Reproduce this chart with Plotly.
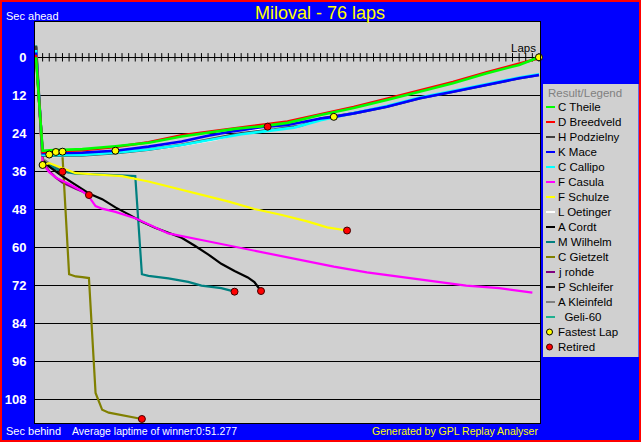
import plotly.graph_objects as go

# ---------------- data (lap, seconds behind average-leader pace) ----------------
names = ["C Theile", "D Breedveld", "H Podzielny", "K Mace", "C Callipo", "F Casula",
         "F Schulze", "L Oetinger", "A Cordt", "M Wilhelm", "C Gietzelt", "j rohde",
         "P Schleifer", "A Kleinfeld", "\u00a0\u00a0Geli-60"]
colors = ["#00FF00", "#FF0000", "#404040", "#0000FF", "#00FFFF", "#FF00FF",
          "#FFFF00", "#FFFFFF", "#000000", "#008080", "#808000", "#800080",
          "#202020", "#808080", "#20B090"]
widths = [2.6, 2.6, 2.6, 2.6, 2.6, 2.2, 2.2, 2.4, 2.2, 2.2, 2.2, 2.4, 2.2, 2.2, 2.2]
# drawing order (first = bottom)
draw_order = [14, 13, 12, 11, 10, 9, 8, 7, 6, 5, 2, 4, 3, 1, 0]

theile_laps = [0, 1, 2, 4, 7, 12, 17, 22, 26, 30, 34, 38, 43, 48, 53, 58, 63, 68, 73, 76]
theile_sec = [0.0, 29.5, 29.4, 29.2, 29.0, 28.1, 27.0, 25.0, 23.8, 22.6, 21.8, 20.7, 18.2, 16.0, 13.5, 10.9, 8.2, 5.1, 2.4, 0.0]

breedveld_laps = [0, 1, 2, 4, 7, 12, 17, 22, 26, 30, 34, 38, 43, 48, 53, 58, 63, 68, 73, 76]
breedveld_sec = [-0.8, 29.9, 29.7, 29.5, 29.3, 28.3, 26.8, 24.6, 23.5, 22.3, 21.3, 20.3, 18.0, 15.7, 13.1, 10.5, 7.8, 4.8, 2.0, 0.3]

podzielny_laps = [0, 1, 2, 4, 7, 12, 17, 22, 27, 31, 36, 40, 43, 48, 53, 58, 63, 68, 73, 76]
podzielny_sec = [-3.6, 31.0, 31.1, 31.1, 31.0, 30.3, 29.2, 27.6, 25.6, 24.0, 22.8, 21.6, 19.3, 17.7, 15.6, 12.9, 10.9, 8.7, 6.6, 5.6]

mace_laps = [0, 1, 2, 4, 7, 12, 17, 22, 26, 30, 34, 38, 43, 45, 48, 53, 58, 63, 68, 73, 76]
mace_sec = [-1.5, 30.3, 30.3, 30.2, 30.1, 29.5, 28.2, 26.6, 24.8, 23.3, 22.1, 21.4, 19.3, 18.8, 17.7, 15.6, 12.9, 10.9, 8.7, 6.6, 5.6]

callipo_laps = [0, 1, 2, 4, 7, 12, 17, 22, 27, 31, 36, 39, 43, 48, 53, 58, 63, 68, 73, 76]
callipo_sec = [-2.3, 30.8, 30.9, 30.9, 30.8, 30.1, 29.1, 27.7, 25.9, 24.3, 23.0, 22.2, 19.9, 17.6, 15.4, 12.7, 10.7, 8.5, 6.4, 5.4]

casula_laps = [0, 1, 2, 3, 5, 7, 8, 9, 10, 12, 15, 20, 25, 30, 35, 40, 45, 50, 55, 60, 65, 70, 75]
casula_sec = [-2.0, 33.5, 36.3, 38.0, 40.0, 42.3, 44.0, 47.0, 47.8, 48.8, 50.8, 55.6, 57.7, 59.8, 61.9, 64.0, 66.1, 67.9, 69.3, 70.5, 72.1, 72.9, 74.3]

schulze_laps = [0, 1, 2, 4, 6, 9, 13, 17, 21, 25, 29, 33, 37, 41, 44, 47]
schulze_sec = [-1.0, 34.0, 33.4, 35.0, 36.6, 37.0, 37.5, 39.2, 41.3, 43.4, 45.5, 47.9, 49.7, 51.8, 53.7, 54.7]

oetinger_laps = [0, 1, 2, 4, 7, 12, 17, 22, 27, 31, 35]
oetinger_sec = [-2.8, 30.9, 31.2, 31.2, 31.1, 30.4, 29.3, 27.8, 26.0, 24.0, 21.9]

cordt_laps = [0, 1, 2, 4, 6, 8, 10, 12, 14, 16, 18, 20, 22, 24, 26, 28, 30, 32, 33, 34]
cordt_sec = [-2.0, 32.5, 34.5, 37.6, 40.3, 43.0, 44.8, 47.4, 49.6, 51.9, 53.8, 55.4, 57.0, 59.5, 62.2, 65.2, 67.5, 69.5, 71.0, 73.8]

wilhelm_laps = [0, 1, 2, 3, 4, 5, 6, 10, 15, 16, 17, 20, 23, 25, 28, 30]
wilhelm_sec = [-2.5, 33.0, 34.0, 35.2, 36.0, 36.4, 36.7, 37.0, 37.5, 68.5, 69.0, 69.8, 70.9, 72.1, 72.9, 74.0]

gietzelt_laps = [0, 1, 2, 3, 4, 5, 6, 7, 8, 9, 10, 11, 12, 13, 14, 15, 16]
gietzelt_sec = [-3.0, 30.0, 30.5, 30.8, 31.0, 68.5, 69.2, 69.4, 69.7, 106.0, 111.3, 112.2, 112.6, 113.0, 113.4, 113.8, 114.2]

rohde_laps = [0, 1, 2, 3, 4, 5, 6, 7, 8]
rohde_sec = [-3.0, 33.3, 36.0, 38.0, 39.5, 40.6, 41.5, 42.3, 43.5]

schleifer_laps = [0, 1, 2, 3, 4]
schleifer_sec = [-3.3, 32.8, 34.3, 35.3, 36.1]

kleinfeld_laps = [0, 1, 2, 3, 4, 5]
kleinfeld_sec = [-3.5, 32.0, 33.5, 34.8, 35.8, 36.4]

geli_laps = [0, 1]
geli_sec = [-3.8, 31.0]

fastest_laps = [1, 2, 3, 4, 12, 45, 76]
fastest_sec = [34.0, 30.7, 29.9, 29.8, 29.5, 18.8, 0.0]

retired_names = ["F Schulze", "L Oetinger", "A Cordt", "M Wilhelm", "C Gietzelt", "j rohde", "P Schleifer"]

y_ticks = [0, 12, 24, 36, 48, 60, 72, 84, 96, 108]
total_laps = 76
lap_ticks = list(range(0, total_laps + 1))

series_laps = [theile_laps, breedveld_laps, podzielny_laps, mace_laps, callipo_laps, casula_laps,
               schulze_laps, oetinger_laps, cordt_laps, wilhelm_laps, gietzelt_laps, rohde_laps,
               schleifer_laps, kleinfeld_laps, geli_laps]
series_sec = [theile_sec, breedveld_sec, podzielny_sec, mace_sec, callipo_sec, casula_sec,
              schulze_sec, oetinger_sec, cordt_sec, wilhelm_sec, gietzelt_sec, rohde_sec,
              schleifer_sec, kleinfeld_sec, geli_sec]

# ---------------- layout geometry ----------------
W, H = 641, 442
ML, MR, MT, MB = 35, 101, 22, 19
PW, PH = W - ML - MR, H - MT - MB
FONT = "Liberation Sans, Arial, sans-serif"


def px(x):
    return (x - ML) / PW


def py(y):
    return (H - MB - y) / PH


fig = go.Figure()

# zero line tick marks (one per lap)
fig.add_trace(go.Scatter(
    x=lap_ticks, y=[0] * len(lap_ticks), mode="markers",
    marker=dict(symbol="line-ns", size=6, line=dict(color="black", width=1)),
    hoverinfo="skip", showlegend=False))

for i in draw_order:
    fig.add_trace(go.Scatter(
        x=series_laps[i], y=series_sec[i], mode="lines", name=names[i],
        line=dict(color=colors[i], width=widths[i]), showlegend=False, hoverinfo="skip"))

# retired markers (last point of each retired driver)
ret_x, ret_y = [], []
for n in retired_names:
    k = names.index(n)
    ret_x.append(series_laps[k][-1])
    ret_y.append(series_sec[k][-1])
fig.add_trace(go.Scatter(
    x=ret_x, y=ret_y, mode="markers",
    marker=dict(color="#FF0000", size=7, line=dict(color="#400000", width=1)),
    showlegend=False, hoverinfo="skip"))

# fastest lap markers
fig.add_trace(go.Scatter(
    x=fastest_laps, y=fastest_sec, mode="markers",
    marker=dict(color="#FFFF00", size=7, line=dict(color="#000000", width=1)),
    showlegend=False, hoverinfo="skip", cliponaxis=False))

shapes = []
annotations = []

# legend box
lx0, lx1, ly0, ly1 = 543, 638.5, 84, 357
shapes.append(dict(type="rect", xref="paper", yref="paper", x0=px(lx0), x1=px(lx1),
                   y0=py(ly1), y1=py(ly0), fillcolor="#D0D0D0", line=dict(width=0), layer="above"))
annotations.append(dict(text="Result/Legend", xref="paper", yref="paper", x=px(546), y=py(92.5),
                        xanchor="left", yanchor="middle", showarrow=False,
                        font=dict(family=FONT, size=11.5, color="#808080")))
row0, step = 107, 15
for k, (n, c) in enumerate(zip(names, colors)):
    yy = row0 + step * k
    shapes.append(dict(type="line", xref="paper", yref="paper", x0=px(546), x1=px(555),
                       y0=py(yy), y1=py(yy), line=dict(color=c, width=2), layer="above"))
    annotations.append(dict(text=n, xref="paper", yref="paper", x=px(555.5), y=py(yy),
                            xanchor="left", yanchor="middle", showarrow=False,
                            font=dict(family=FONT, size=11.5, color="black")))
extra = [("Fastest Lap", "#FFFF00", "#000000"), ("Retired", "#FF0000", "#400000")]
for j, (t, fc, lc) in enumerate(extra):
    yy = row0 + step * (len(names) + j)
    shapes.append(dict(type="circle", xref="paper", yref="paper", x0=px(546.5), x1=px(552.5),
                       y0=py(yy + 3), y1=py(yy - 3), fillcolor=fc, line=dict(color=lc, width=1),
                       layer="above"))
    annotations.append(dict(text=t, xref="paper", yref="paper", x=px(555.5), y=py(yy),
                            xanchor="left", yanchor="middle", showarrow=False,
                            font=dict(family=FONT, size=11.5, color="black")))

# red outer border
shapes.append(dict(type="rect", xref="paper", yref="paper", x0=px(1), x1=px(W - 1),
                   y0=py(H - 1), y1=py(1), line=dict(color="#FF0000", width=2), layer="above"))

# texts
annotations += [
    dict(text="Miloval - 76 laps", xref="paper", yref="paper", x=px(320), y=py(13),
         xanchor="center", yanchor="middle", showarrow=False,
         font=dict(family=FONT, size=18, color="#FFFF00")),
    dict(text="Sec ahead", xref="paper", yref="paper", x=px(4), y=py(16),
         xanchor="left", yanchor="middle", showarrow=False,
         font=dict(family=FONT, size=11, color="white")),
    dict(text="Sec behind", xref="paper", yref="paper", x=px(4), y=py(431),
         xanchor="left", yanchor="middle", showarrow=False,
         font=dict(family=FONT, size=11, color="white")),
    dict(text="Average laptime of winner:0:51.277", xref="paper", yref="paper", x=px(70), y=py(431),
         xanchor="left", yanchor="middle", showarrow=False,
         font=dict(family=FONT, size=10.5, color="white")),
    dict(text="Generated by GPL Replay Analyser", xref="paper", yref="paper", x=px(540), y=py(431),
         xanchor="right", yanchor="middle", showarrow=False,
         font=dict(family=FONT, size=10.5, color="#FFFF00")),
    dict(text="Laps", xref="paper", yref="y", x=px(538), y=0,
         xanchor="right", yanchor="bottom", showarrow=False, yshift=1,
         font=dict(family=FONT, size=11.5, color="black")),
]

x_lo = -1 / 6.618
x_hi = (540 - 36) / 6.618
y_top = (MT - 57.3) / 3.167
y_bot = (H - MB - 57.3) / 3.167

fig.update_layout(
    width=W, height=H, margin=dict(l=ML, r=MR, t=MT, b=MB, pad=0, autoexpand=False),
    paper_bgcolor="#0000FF", plot_bgcolor="#D0D0D0",
    showlegend=False, hovermode=False,
    shapes=shapes, annotations=annotations,
    xaxis=dict(range=[x_lo, x_hi], showgrid=False, zeroline=False, showticklabels=False,
               ticks="", showline=True, linecolor="black", linewidth=1, mirror=True,
               fixedrange=True, automargin=False),
    yaxis=dict(range=[y_bot, y_top], tickvals=y_ticks, ticktext=[str(v) for v in y_ticks],
               showgrid=True, gridcolor="black", gridwidth=1, zeroline=False,
               showline=True, linecolor="black", linewidth=1, mirror=True, ticks="",
               ticklabelstandoff=5, automargin=False,
               tickfont=dict(family=FONT, size=13, color="white", weight="bold"), fixedrange=True),
)

fig.write_html("out.html", config={"displayModeBar": False},
               post_script="document.body.style.margin='0';document.body.style.padding='0';")
